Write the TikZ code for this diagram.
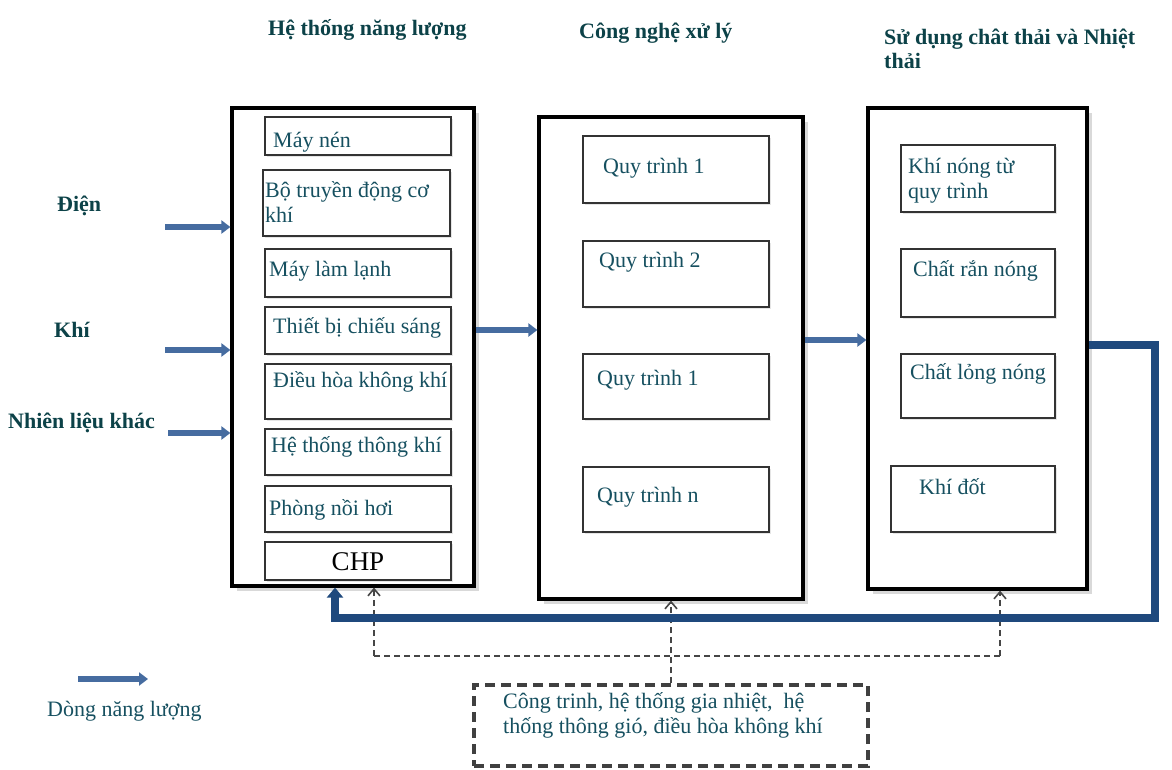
\documentclass[tikz,border=0pt]{standalone}
\usepackage{fontspec}
\setmainfont{Liberation Serif}
\usetikzlibrary{arrows.meta,fit,shadows}
\definecolor{headcol}{RGB}{12,66,72}
\definecolor{txtcol}{RGB}{22,80,96}
\definecolor{flowblue}{RGB}{70,108,160}
\definecolor{loopblue}{RGB}{31,73,125}
\definecolor{dashgray}{RGB}{70,70,70}
\newcommand\twolines[2]{\vtop{\baselineskip=25pt\hbox{#1}\hbox{#2}}}
\begin{document}
\begin{tikzpicture}[x=1pt,y=-1pt,
  bigbox/.style={draw=black, line width=3.2pt, fill=white, inner sep=0pt,
    drop shadow={shadow xshift=5pt, shadow yshift=-5pt, opacity=0.3}},
  ibox/.style={draw=black!80, line width=2.5pt, fill=white, inner sep=0pt,
    drop shadow={shadow xshift=2pt, shadow yshift=-2pt, opacity=0.2}},
  dbox/.style={draw=black!75, line width=3.2pt, dash pattern=on 10pt off 6pt, fill=white, inner sep=0pt},
  btxt/.style={text=txtcol, font=\fontsize{22}{25}\selectfont, anchor=base west, inner sep=0pt},
  htxt/.style={text=headcol, font=\fontsize{22}{24}\bfseries\selectfont, anchor=base west, inner sep=0pt},
  inarrow/.style={draw=flowblue, line width=6.5pt, -{Triangle[length=9pt,width=13pt]}},
  loopline/.style={draw=loopblue, line width=8.5pt, line join=miter, -{Triangle[length=10pt,width=16pt]}},
  dline/.style={draw=dashgray, line width=1.6pt, dash pattern=on 6pt off 4pt},
  dtip/.style={-{Straight Barb[length=7pt,width=12pt,line width=1.6pt]}}
]
\useasboundingbox (0,0) rectangle (1172,769);

% headings
\node[htxt] (h1) at (268,35) {Hệ thống năng lượng};
\node[htxt] (h2) at (579,38) {Công nghệ xử lý};
\node[htxt] (h3) at (884,44) {\vtop{\baselineskip=24pt\hbox{Sử dụng chât thải và Nhiệt}\hbox{thải}}};

% big boxes
\node[bigbox, fit={(232,108)(474,586)}] (b1) {};
\node[bigbox, fit={(539,117)(803,599)}] (b2) {};
\node[bigbox, fit={(868,108)(1087,589)}] (b3) {};

% left inner boxes
\node[ibox, fit={(265,117)(451,155)}] (a1) {};
\node[ibox, fit={(263,170)(450,236)}] (a2) {};
\node[ibox, fit={(265,249)(451,297)}] (a3) {};
\node[ibox, fit={(265,307)(451,354)}] (a4) {};
\node[ibox, fit={(265,364)(451,419)}] (a5) {};
\node[ibox, fit={(265,429)(451,475)}] (a6) {};
\node[ibox, fit={(265,486)(451,532)}] (a7) {};
\node[ibox, fit={(265,542)(451,580)}] (a8) {};
\node[btxt] (ta1) at (273,147) {Máy nén};
\node[btxt] (ta2) at (265,197) {\twolines{Bộ truyền động cơ}{khí}};
\node[btxt] (ta3) at (269,276) {Máy làm lạnh};
\node[btxt] (ta4) at (273,333) {Thiết bị chiếu sáng};
\node[btxt] (ta5) at (273,387) {Điều hòa không khí};
\node[btxt] (ta6) at (271,452) {Hệ thống thông khí};
\node[btxt] (ta7) at (269,515) {Phòng nồi hơi};
\node[btxt, text=black, font=\fontsize{27}{30}\selectfont, anchor=base] (ta8) at (358,570) {CHP};

% middle inner boxes
\node[ibox, fit={(583,136)(769,203)}] (p1) {};
\node[ibox, fit={(583,241)(769,307)}] (p2) {};
\node[ibox, fit={(583,354)(769,419)}] (p3) {};
\node[ibox, fit={(583,467)(769,532)}] (p4) {};
\node[btxt] (tp1) at (603,173) {Quy trình 1};
\node[btxt] (tp2) at (599,267) {Quy trình 2};
\node[btxt] (tp3) at (597,385) {Quy trình 1};
\node[btxt] (tp4) at (597,502) {Quy trình n};

% right inner boxes
\node[ibox, fit={(901,145)(1055,212)}] (r1) {};
\node[ibox, fit={(901,249)(1055,317)}] (r2) {};
\node[ibox, fit={(901,354)(1055,418)}] (r3) {};
\node[ibox, fit={(891,466)(1055,532)}] (r4) {};
\node[btxt] (tr1) at (908,173) {\twolines{Khí nóng từ}{quy trình}};
\node[btxt] (tr2) at (913,276) {Chất rắn nóng};
\node[btxt] (tr3) at (910,379) {Chất lỏng nóng};
\node[btxt] (tr4) at (919,494) {Khí đốt};

% dashed box
\node[dbox, fit={(474,685)(868,766)}] (db) {};
\node[btxt] (tdb) at (503,708) {\twolines{Công trinh, hệ thống gia nhiệt,\ \ hệ}{thống thông gió, điều hòa không khí}};

% input labels
\node[htxt] (l1) at (57,211) {Điện};
\node[htxt] (l2) at (54,337) {Khí};
\node[htxt] (l3) at (8,428) {Nhiên liệu khác};

% input arrows
\coordinate (e1) at (165,227);
\coordinate (e2) at (165,350);
\coordinate (e3) at (168,433);
\draw[inarrow] (e1) -- (e1 -| b1.west);
\draw[inarrow] (e2) -- (e2 -| b1.west);
\draw[inarrow] (e3) -- (e3 -| b1.west);

% flow between boxes
\coordinate (m1) at (0,330);
\coordinate (m2) at (0,340);
\draw[inarrow] (b1.east |- m1) -- (b2.west |- m1);
\draw[inarrow] (b2.east |- m2) -- (b3.west |- m2);

% dashed feedback
\coordinate (dl) at (374,656);
\coordinate (dr) at (1000,656);
\draw[dline] (dl) -- (dr);
\draw[dline, dtip] (dl) -- (dl |- b1.south);
\draw[dline, dtip] (dr) -- (dr |- b3.south);
\draw[dline, dtip] (db.north) -- (db.north |- b2.south);

% heat recovery loop
\coordinate (ly) at (0,345);
\coordinate (lc) at (1155,618);
\coordinate (lp) at (335,618);
\draw[loopline] (b3.east |- ly) -| (lc) -- (lp) -- (lp |- b1.south);

% legend
\coordinate (lg1) at (78,679);
\coordinate (lg2) at (148,679);
\draw[inarrow] (lg1) -- (lg2);
\node[btxt] (lgt) at (47,716) {Dòng năng lượng};
\end{tikzpicture}
\end{document}
